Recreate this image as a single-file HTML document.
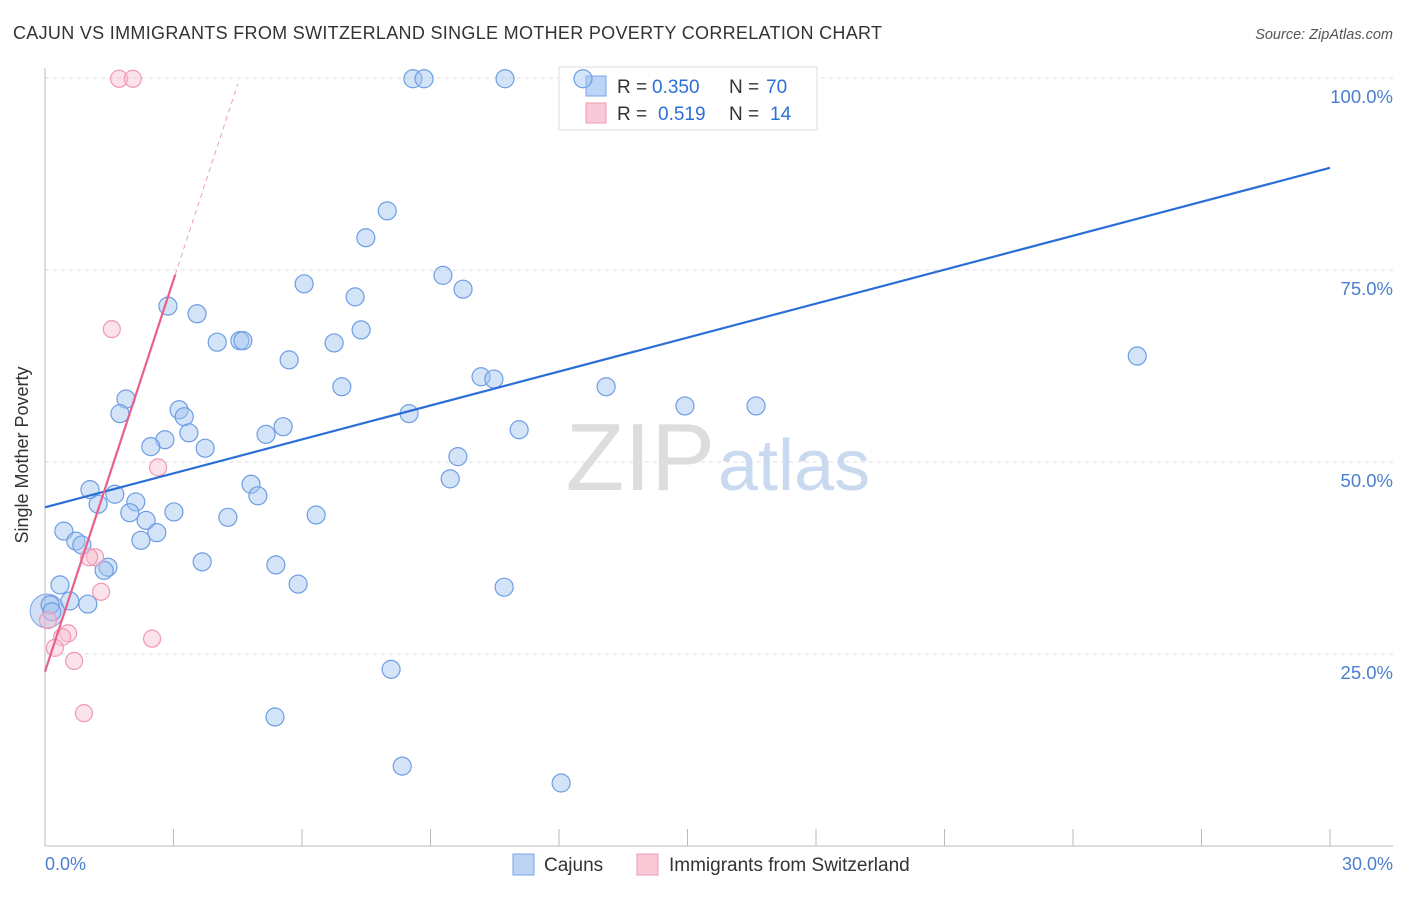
<!DOCTYPE html>
<html><head><meta charset="utf-8"><style>
body{margin:0;background:#fff;font-family:"Liberation Sans",sans-serif}
svg text{font-family:"Liberation Sans",sans-serif}
</style></head><body>
<svg width="1406" height="892" xmlns="http://www.w3.org/2000/svg">
<text x="13" y="39" font-size="18" fill="#333" textLength="869">CAJUN VS IMMIGRANTS FROM SWITZERLAND SINGLE MOTHER POVERTY CORRELATION CHART</text>
<text x="1393" y="39" font-size="14.5" fill="#555" font-style="italic" text-anchor="end">Source: ZipAtlas.com</text>
<g id="grid"></g>
<text x="715" y="490" font-size="96" fill="#ddd" text-anchor="end" font-family="Liberation Serif">ZIP</text>
<text x="718" y="490" font-size="72" fill="#c9d9f0">atlas</text>
<line x1="45" y1="68" x2="45" y2="846" stroke="#bbb"/>
<line x1="45" y1="846" x2="1393" y2="846" stroke="#bbb"/>
<g id="ticks"></g>
<g>
<rect x="559" y="67" width="258" height="63" fill="#fff" stroke="#ddd"/>
<rect x="586" y="76" width="20" height="20" fill="#bcd4f5" stroke="#7aa6e6"/>
<rect x="586" y="103" width="20" height="20" fill="#f9c9d7" stroke="#ee9ab4"/>
<text x="617" y="93" font-size="19" fill="#333">R =</text>
<text x="652" y="93" font-size="19" fill="#2d6fd6">0.350</text>
<text x="729" y="93" font-size="19" fill="#333">N =</text>
<text x="766" y="93" font-size="19" fill="#2d6fd6">70</text>
<text x="617" y="120" font-size="19" fill="#333">R =</text>
<text x="658" y="120" font-size="19" fill="#2d6fd6">0.519</text>
<text x="729" y="120" font-size="19" fill="#333">N =</text>
<text x="770" y="120" font-size="19" fill="#2d6fd6">14</text>
</g>
<g id="pts"></g>
<g id="lines"></g>
<text x="28" y="455" font-size="18" fill="#333" text-anchor="middle" transform="rotate(-90 28 455)">Single Mother Poverty</text>
<text x="45" y="870" font-size="18" fill="#4a7fd0">0.0%</text>
<text x="1393" y="870" font-size="18" fill="#4a7fd0" text-anchor="end">30.0%</text>
<g>
<rect x="513" y="854" width="21" height="21" fill="#bcd4f5" stroke="#7aa6e6"/>
<text x="544" y="871" font-size="19" fill="#333">Cajuns</text></g>
<g>
<rect x="637" y="854" width="21" height="21" fill="#f9c9d7" stroke="#ee9ab4"/>
<text x="669" y="871" font-size="19" fill="#333">Immigrants from Switzerland</text></g>
</svg>
<script>
const blueX=[8.59,8.85,10.74,12.56,7.99,7.49,9.29,6.05,9.76,7.24,2.87,3.55,7.38,4.02,4.55,4.62,6.75,5.70,25.50,10.18,10.48,6.93,13.10,1.89,1.75,3.13,3.25,8.50,14.94,16.60,3.36,5.16,5.56,2.80,2.47,3.74,11.07,9.64,9.46,4.81,4.97,1.05,1.63,1.24,2.12,1.98,3.01,2.36,4.27,6.33,0.44,2.61,0.72,0.86,2.24,3.67,5.39,1.47,1.38,5.91,10.72,0.35,0.58,1.00,0.12,0.16,8.08,5.37,8.34,12.05];
const blueY=[99.9,99.9,99.9,99.9,82.7,79.2,74.3,73.2,72.5,71.5,70.3,69.3,67.2,65.6,65.8,65.8,65.5,63.3,63.8,61.1,60.8,59.8,59.8,58.2,56.3,56.8,55.9,56.3,57.3,57.3,53.8,53.6,54.6,52.9,52.0,51.8,54.2,50.7,47.8,47.1,45.6,46.4,45.8,44.5,44.8,43.4,43.5,42.4,42.8,43.1,41.0,40.8,39.7,39.2,39.8,37.0,36.6,36.3,35.9,34.1,33.7,34.0,31.9,31.5,31.4,30.5,23.0,16.8,10.4,8.2];
const pinkX=[1.73,2.05,1.56,2.64,1.17,1.03,1.31,0.54,0.40,0.23,2.50,0.68,0.91,0.07];
const pinkY=[99.9,99.9,67.3,49.3,37.6,37.6,33.1,27.7,27.2,25.8,27.0,24.1,17.3,29.4];
const yTicks=[25,50,75,100];
const yTickLabels=["25.0%","50.0%","75.0%","100.0%"];
const xTicks=[0,3,6,9,12,15,18,21,24,27,30];
const blueTrend=[44.1,88.3];
const pinkTrend=[22.7,17.0];
const X=v=>45+v/30*1285, Y=v=>846-v*7.68;
const NS="http://www.w3.org/2000/svg";
function mk(t,a,p){const e=document.createElementNS(NS,t);for(const k in a)e.setAttribute(k,a[k]);p.appendChild(e);return e;}
const g=document.getElementById('grid');
yTicks.forEach((t,i)=>{
 const l=mk('line',{x1:45,x2:1393,y1:Y(t),y2:Y(t),stroke:'#ddd','stroke-dasharray':'4 4'},g);
 
 
 const tx=mk('text',{x:1393,y:Y(t)+25,'font-size':18.5,fill:'#4a7fd0','text-anchor':'end'},g);
 tx.textContent=yTickLabels[i];
 
 
});
const tk=document.getElementById('ticks');
xTicks.forEach(t=>{const l=mk('line',{x1:X(t),x2:X(t),y1:829,y2:846,stroke:'#bbb'},tk);
 
 });
const p=document.getElementById('pts');
const big=mk('circle',{cx:X(0.05),cy:Y(30.6),r:17,fill:'rgba(120,160,230,0.35)',stroke:'#7aa6e6'},p);


blueX.forEach((x,i)=>{const c=mk('circle',{cx:X(x),cy:Y(blueY[i]),r:9,fill:'rgba(160,196,240,0.45)',stroke:'#6d9de3','stroke-width':1.2},p);
 
 });
pinkX.forEach((x,i)=>{const c=mk('circle',{cx:X(x),cy:Y(pinkY[i]),r:8.5,fill:'rgba(248,190,208,0.45)',stroke:'#ee9ab4','stroke-width':1.2},p);
 
 });
const L=document.getElementById('lines');
const bl=mk('line',{x1:X(0),y1:Y(blueTrend[0]),x2:X(30),y2:Y(blueTrend[1]),stroke:'#2b6fd6','stroke-width':2.2},L);


const pl=mk('line',{x1:X(0),y1:Y(pinkTrend[0]),x2:X(3.04),y2:Y(pinkTrend[0]+pinkTrend[1]*3.04),stroke:'#e8608a','stroke-width':2.2},L);


const pd=mk('line',{x1:X(3.04),y1:Y(pinkTrend[0]+pinkTrend[1]*3.04),x2:X(4.5),y2:Y(pinkTrend[0]+pinkTrend[1]*4.5),stroke:'#eea0b8','stroke-width':1,'stroke-dasharray':'5 4'},L);


</script>
</body></html>
